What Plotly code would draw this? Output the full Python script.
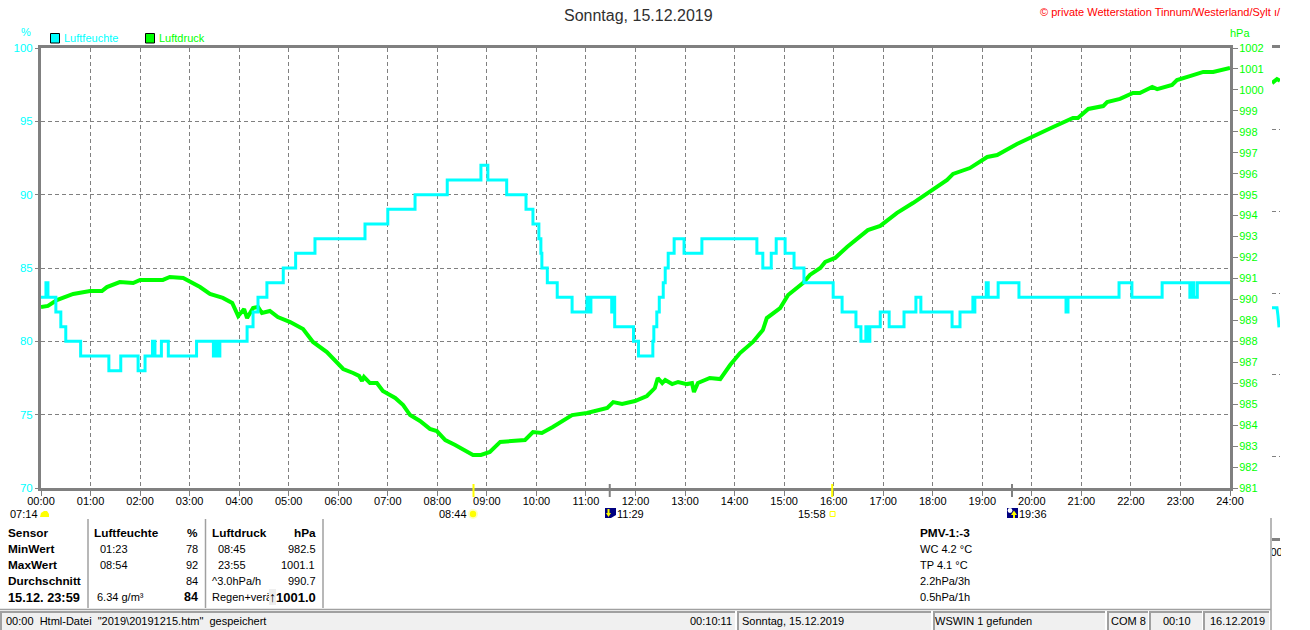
import plotly.graph_objects as go

# values, time in hours since midnight
feuchte_hours = [0.00, 0.10, 0.14, 0.30, 0.40, 0.50, 0.80, 1.37, 1.61, 1.96, 2.10, 2.25, 2.30, 2.43, 2.57,
                 3.14, 3.48, 3.52, 3.55, 3.61, 4.16, 4.28, 4.38, 4.56, 4.89, 5.14, 5.53, 6.54, 7.00, 7.55,
                 8.20, 8.88, 9.02, 9.40, 9.79, 9.93, 10.05, 10.09, 10.11, 10.22, 10.42, 10.72, 11.02, 11.06,
                 11.10, 11.52, 11.54, 11.58, 11.96, 12.06, 12.35, 12.37, 12.43, 12.48, 12.56, 12.60, 12.66,
                 12.78, 12.98, 13.34, 14.45, 14.57, 14.74, 14.84, 15.02, 15.20, 15.40, 15.99, 16.17, 16.45,
                 16.55, 16.65, 16.69, 16.73, 16.94, 17.12, 17.42, 17.66, 17.76, 18.39, 18.55, 18.81, 18.83,
                 18.85, 19.08, 19.12, 19.32, 19.74, 20.69, 20.73, 21.76, 22.02, 22.63, 23.19, 23.25, 23.27,
                 23.34, 24.00]
feuchte_pct = [83, 84, 83, 82, 81, 80, 79, 78, 79, 78, 79, 80, 79, 80, 79,
               80, 79, 80, 79, 80, 81, 82, 83, 84, 85, 86, 87, 88, 89, 90,
               91, 92, 91, 90, 89, 88, 87, 86, 85, 84, 83, 82, 83, 82,
               83, 82, 83, 81, 80, 79, 80, 81, 82, 83, 84, 85, 86,
               87, 86, 87, 86, 85, 86, 87, 86, 85, 84, 83, 82, 81,
               80, 81, 80, 81, 82, 81, 82, 83, 82, 81, 82, 83, 82,
               83, 84, 83, 84, 83, 82, 83, 84, 83, 84, 83, 84, 83,
               84, 84]

druck_hours = [0.00, 0.14, 0.32, 0.65, 0.99, 1.23, 1.33, 1.59, 1.86, 2.00, 2.46, 2.60, 2.87, 3.21, 3.41,
               3.67, 3.86, 3.98, 4.10, 4.16, 4.28, 4.38, 4.46, 4.62, 4.78, 5.03, 5.29, 5.49, 5.77, 6.00,
               6.10, 6.30, 6.42, 6.48, 6.52, 6.64, 6.78, 6.90, 7.15, 7.31, 7.45, 7.65, 7.85, 7.99, 8.16,
               8.36, 8.52, 8.72, 8.88, 9.06, 9.27, 9.61, 9.77, 9.93, 10.11, 10.33, 10.48, 10.72, 11.02,
               11.22, 11.43, 11.55, 11.73, 11.99, 12.23, 12.39, 12.45, 12.54, 12.60, 12.74, 12.86, 13.04,
               13.14, 13.18, 13.26, 13.50, 13.71, 13.91, 14.11, 14.37, 14.57, 14.65, 14.92, 15.08, 15.38,
               15.52, 15.73, 15.83, 16.03, 16.27, 16.53, 16.69, 16.94, 17.28, 17.60, 17.89, 18.29, 18.41,
               18.75, 19.10, 19.30, 19.70, 20.03, 20.43, 20.83, 20.93, 21.14, 21.44, 21.52, 21.78, 22.04,
               22.18, 22.43, 22.53, 22.83, 22.93, 23.19, 23.46, 23.66, 24.00]
druck_hpa = [989.64, 989.69, 989.97, 990.26, 990.40, 990.40, 990.59, 990.83, 990.78, 990.93, 990.93, 991.07,
             991.02, 990.59, 990.26, 990.07, 989.83, 989.21, 989.54, 989.11, 989.59, 989.64, 989.35, 989.45,
             989.16, 988.92, 988.59, 987.97, 987.49, 986.97, 986.68, 986.49, 986.35, 986.11, 986.30, 986.01,
             986.01, 985.63, 985.30, 984.96, 984.48, 984.20, 983.82, 983.72, 983.29, 983.05, 982.86, 982.58,
             982.58, 982.72, 983.20, 983.24, 983.29, 983.67, 983.63, 983.91, 984.15, 984.48, 984.58, 984.72,
             984.82, 985.10, 985.01, 985.15, 985.39, 985.77, 986.25, 986.01, 986.15, 985.96, 986.06, 985.96,
             986.01, 985.58, 986.01, 986.25, 986.20, 986.87, 987.44, 987.97, 988.54, 989.11, 989.59, 990.21,
             990.78, 991.17, 991.50, 991.79, 991.98, 992.50, 992.98, 993.31, 993.51, 994.13, 994.60, 995.08,
             995.70, 995.99, 996.27, 996.80, 996.89, 997.42, 997.80, 998.23, 998.66, 998.66, 999.09, 999.23,
             999.42, 999.57, 999.85, 999.85, 1000.14, 1000.04, 1000.24, 1000.47, 1000.66, 1000.86, 1000.86, 1001.05]

# the sliver of the next chart that is still visible on the right
rest_druck_hours = [0.00, 0.10, 0.16]
rest_druck = [5.57, 5.62, 5.60]
rest_feuchte_hours = [0.00, 0.10, 0.12, 0.14]
rest_feuchte = [2.82, 2.82, 2.72, 2.58]

hour_ticks = list(range(25))
hour_labels = [f"{h:02d}:00" for h in hour_ticks]
feuchte_ticks = [70, 75, 80, 85, 90, 95, 100]
druck_ticks = list(range(981, 1003))

sun_times = [8.73, 15.97]
moon_times = [11.48, 19.60]

FONT = "Liberation Sans"
CYAN = "#00ffff"
GREEN = "#00ff00"
GRAY = "#808080"
PANEL = "#a0a0a0"
BOLD = 11.8


def px_x(x):
    return (x - 41) / 1239


def px_y(y):
    return (538 - y) / 490


def label(x, y, text, color="black", size=11, anchor="left", **kw):
    fig.add_annotation(
        x=px_x(x), y=px_y(y), xref="paper", yref="paper", text=text, showarrow=False,
        xanchor=anchor, yanchor="middle", font=dict(family=FONT, size=size, color=color),
        borderpad=0, borderwidth=0, **kw,
    )


def box(x0, y0, x1, y1, fill=None, line=None, width=1):
    fig.add_shape(
        type="rect", xref="paper", yref="paper", x0=px_x(x0), x1=px_x(x1), y0=px_y(y0), y1=px_y(y1),
        fillcolor=fill, line=dict(color=line, width=width if line else 0),
    )


def seg(x0, y0, x1, y1, color, width=1):
    fig.add_shape(
        type="line", xref="paper", yref="paper", x0=px_x(x0), x1=px_x(x1), y0=px_y(y0), y1=px_y(y1),
        line=dict(color=color, width=width),
    )


def poly(points, fill, line=None):
    path = "M " + " L ".join(f"{px_x(x)},{px_y(y)}" for x, y in points) + " Z"
    fig.add_shape(type="path", xref="paper", yref="paper", path=path, fillcolor=fill,
                  line=dict(color=line or fill, width=0 if line is None else 1))


def dot(cx, cy, r, fill, line=None):
    fig.add_shape(
        type="circle", xref="paper", yref="paper", x0=px_x(cx - r), x1=px_x(cx + r), y0=px_y(cy - r),
        y1=px_y(cy + r), fillcolor=fill, line=dict(color=line, width=1 if line else 0),
    )


fig = go.Figure()
fig.add_trace(go.Scatter(x=druck_hours, y=druck_hpa, mode="lines", name="Luftdruck", xaxis="x", yaxis="y",
                         line=dict(color=GREEN, width=4)))
fig.add_trace(go.Scatter(x=feuchte_hours, y=feuchte_pct, mode="lines", name="Luftfeuchte", xaxis="x", yaxis="y2",
                         line=dict(color=CYAN, width=3, shape="hv")))
fig.add_trace(go.Scatter(x=rest_druck_hours, y=rest_druck, mode="lines", xaxis="x3", yaxis="y3",
                         line=dict(color=GREEN, width=4)))
fig.add_trace(go.Scatter(x=rest_feuchte_hours, y=rest_feuchte, mode="lines", xaxis="x3", yaxis="y3",
                         line=dict(color=CYAN, width=3)))

fig.update_layout(
    width=1310, height=630, showlegend=False, paper_bgcolor="white", plot_bgcolor="white",
    margin=dict(l=41, r=30, t=48, b=92, pad=0),
    font=dict(family=FONT, size=11, color="black"),
    xaxis=dict(domain=[0, 1189 / 1239], range=[0, 24], anchor="y", tickmode="array", tickvals=hour_ticks,
               ticktext=hour_labels, ticks="outside", ticklen=5, tickcolor=GRAY, tickwidth=1,
               showgrid=True, gridcolor=GRAY, griddash="4px,3px", gridwidth=1, zeroline=False,
               showline=True, linecolor=GRAY, linewidth=3, mirror=True, tickangle=0, ticklabelstandoff=-4,
               tickfont=dict(family=FONT, size=11, color="black")),
    yaxis=dict(domain=[50 / 490, 1], range=[981, 1002], anchor="x", side="right", tickmode="array",
               tickvals=druck_ticks, ticks="outside", ticklen=5, tickcolor=GRAY, tickwidth=1, showgrid=False,
               zeroline=False, showline=True, linecolor=GRAY, linewidth=3, mirror=True, ticklabelstandoff=-1,
               tickfont=dict(family=FONT, size=11, color=GREEN)),
    yaxis2=dict(domain=[50 / 490, 1], range=[70, 100], anchor="x", overlaying="y", side="left", tickmode="array",
                tickvals=feuchte_ticks, ticks="outside", ticklen=5, tickcolor=GRAY, tickwidth=1, showgrid=True,
                gridcolor=GRAY, griddash="4px,3px", gridwidth=1, zeroline=False, showline=False,
                tickfont=dict(family=FONT, size=11.5, color=CYAN)),
    xaxis3=dict(domain=[1231 / 1239, 1], range=[0, 0.16], anchor="y3", showticklabels=False, ticks="",
                showgrid=False, zeroline=False, showline=True, linecolor=GRAY, linewidth=3, mirror=True),
    yaxis3=dict(domain=[0, 1], range=[0, 6], anchor="x3", showticklabels=False, ticks="", dtick=1, showgrid=True,
                gridcolor=GRAY, griddash="4px,3px", gridwidth=1, zeroline=False, showline=False),
)

# head
label(638, 15, "Sonntag, 15.12.2019", color="#303030", size=16, anchor="center")
label(1040, 12, "© private Wetterstation Tinnum/Westerland/Sylt ı/", color="#ff0000", size=11)
label(26, 32, "%", color=CYAN, anchor="center")
label(1240, 33, "hPa", color=GREEN, anchor="center")
box(50.5, 33.5, 59.5, 43, fill=CYAN, line="black")
label(64, 38, "Luftfeuchte", color=CYAN)
box(145.5, 33.5, 154.5, 43, fill=GREEN, line="black")
label(159, 38, "Luftdruck", color=GREEN)

# sun and moon marks on the time axis
for t in sun_times:
    fig.add_shape(type="line", xref="x", yref="paper", x0=t, x1=t, y0=px_y(484), y1=px_y(497),
                  line=dict(color="#ffff00", width=2))
for t in moon_times:
    fig.add_shape(type="line", xref="x", yref="paper", x0=t, x1=t, y0=px_y(484), y1=px_y(497),
                  line=dict(color=GRAY, width=2))
label(10, 514, "07:14")
poly([(40, 517), (41, 513), (44, 511), (47, 511), (49, 514), (49, 517)], "#ffff00")
label(439, 514, "08:44")
dot(473, 514, 5, "#ffffc0")
dot(473, 514, 3.2, "#ffff00")
box(605, 508, 616, 518, fill="#000080")
poly([(611, 518), (616, 515), (616, 518)], "white")
seg(608.5, 509, 608.5, 514, "#ffff00", 2)
poly([(606, 513), (611, 513), (608.5, 517)], "#ffff00")
label(617, 514, "11:29")
label(798, 514, "15:58")
box(830, 511.5, 835, 516.5, line="#ffff00")
box(1007, 508, 1018, 518, fill="#000080")
dot(1010, 510.5, 2.4, "white")
seg(1014, 513, 1014, 518, "#ffff00", 2)
poly([(1011, 515), (1017, 515), (1014, 510.5)], "#ffff00")
label(1019, 514, "19:36")

# table below the chart
for x in [88, 205.5, 323]:
    seg(x, 519, x, 608, PANEL, 1.5)
seg(1271, 518, 1271, 630, PANEL, 1.5)
seg(0, 609.5, 1271, 609.5, PANEL, 1.5)

rows = [533, 549, 565, 581, 597]
for y, text in zip(rows, ["Sensor", "MinWert", "MaxWert", "Durchschnitt"]):
    label(8, y, f"<b>{text}</b>", size=BOLD)
label(8, rows[4], "<b>15.12. 23:59</b>", size=12.8)

label(94, rows[0], "<b>Luftfeuchte</b>", size=BOLD)
label(198, rows[0], "<b>%</b>", anchor="right", size=BOLD)
label(100, rows[1], "01:23")
label(198, rows[1], "78", anchor="right")
label(100, rows[2], "08:54")
label(198, rows[2], "92", anchor="right")
label(198, rows[3], "84", anchor="right")
label(97, rows[4], "6.34 g/m³")
label(198, rows[4], "<b>84</b>", anchor="right", size=12.5)

label(212, rows[0], "<b>Luftdruck</b>", size=BOLD)
label(316, rows[0], "<b>hPa</b>", anchor="right", size=BOLD)
label(218, rows[1], "08:45")
label(316, rows[1], "982.5", anchor="right")
label(218, rows[2], "23:55")
label(315, rows[2], "1001.1", anchor="right")
label(212, rows[3], "^3.0hPa/h")
label(316, rows[3], "990.7", anchor="right")
label(212, rows[4], "Regen+verä")
label(272, rows[4], "<b>↑</b>", anchor="center", size=14, bgcolor="#eeeeee")
label(316, rows[4], "<b>1001.0</b>", anchor="right", size=13)

label(920, rows[0], "<b>PMV-1:-3</b>", size=BOLD)
label(920, rows[1], "WC 4.2 °C")
label(920, rows[2], "TP 4.1 °C")
label(920, rows[3], "2.2hPa/3h")
label(920, rows[4], "0.5hPa/1h")
label(1276, 552, "00", anchor="center", width=9)

# status bar
for x0, x1 in [(0, 735), (737, 931), (933, 1105), (1107, 1148), (1149, 1202), (1203, 1269)]:
    box(x0, 611, x1, 630, fill="#f0f0f0")
    seg(x0, 612, x1, 612, PANEL, 2)
    seg(x0 + 1, 611, x0 + 1, 630, PANEL, 2)
label(6, 621, '00:00  Html-Datei  "2019\\20191215.htm"  gespeichert')
label(732, 621, "00:10:11", anchor="right")
label(742, 621, "Sonntag, 15.12.2019")
label(935, 621, "WSWIN 1 gefunden")
label(1111, 621, "COM 8")
label(1163, 621, "00:10")
label(1210, 621, "16.12.2019")

fig.write_html("out.html", config={"displayModeBar": False},
               post_script="document.body.style.margin='0';document.body.style.overflow='hidden';")
